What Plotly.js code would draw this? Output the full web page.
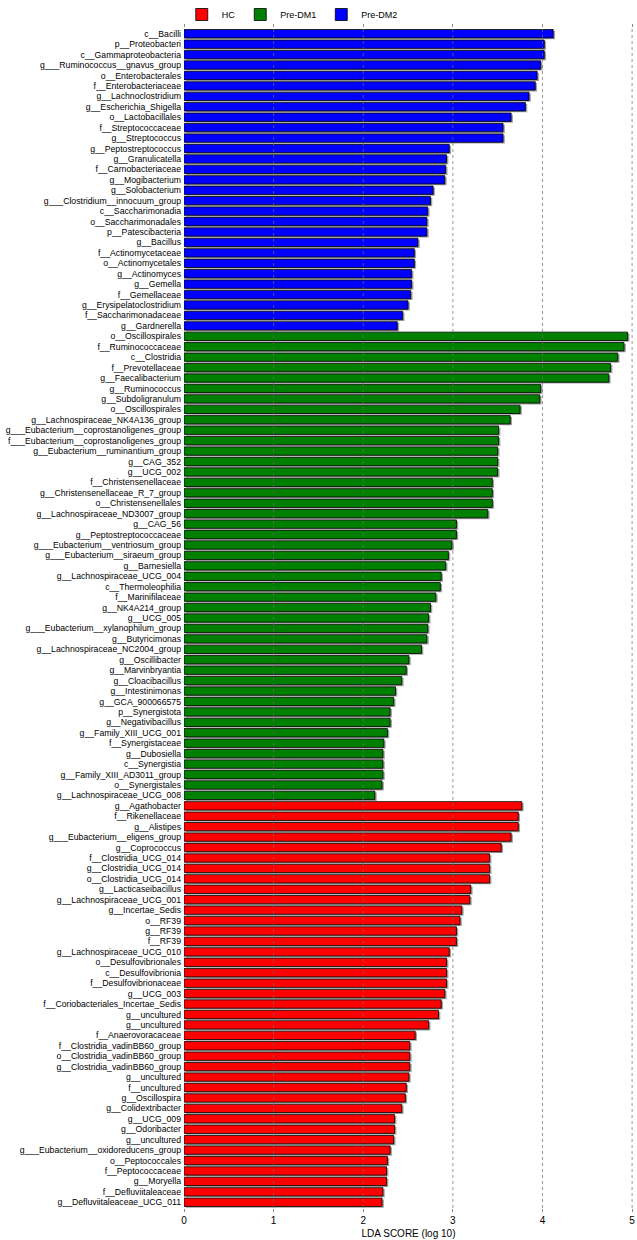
<!DOCTYPE html>
<html>
<head>
<meta charset="utf-8">
<script src="https://cdn.plot.ly/plotly-3.0.1.min.js"></script>
<style>html,body{margin:0;padding:0;background:#fff;}#chart{width:637px;height:1240px;}</style>
</head>
<body>
<div id="chart"></div>
<script>
// ---- Data (LDA scores, log10) ----
const groups = ["HC", "Pre-DM1", "Pre-DM2"];
const groupColors = ["#FF0000", "#008000", "#0000FF"];

const dm2Names = ["c__Bacilli","p__Proteobacteri","c__Gammaproteobacteria","g___Ruminococcus__gnavus_group","o__Enterobacterales","f__Enterobacteriaceae","g__Lachnoclostridium","g__Escherichia_Shigella","o__Lactobacillales","f__Streptococcaceae","g__Streptococcus","g__Peptostreptococcus","g__Granulicatella","f__Carnobacteriaceae","g__Mogibacterium","g__Solobacterium","g___Clostridium__innocuum_group","c__Saccharimonadia","o__Saccharimonadales","p__Patescibacteria","g__Bacillus","f__Actinomycetaceae","o__Actinomycetales","g__Actinomyces","g__Gemella","f__Gemellaceae","g__Erysipelatoclostridium","f__Saccharimonadaceae","g__Gardnerella"];
const dm2Values = [4.12,4.02,4.02,3.98,3.94,3.92,3.85,3.81,3.65,3.56,3.56,2.96,2.93,2.92,2.91,2.78,2.75,2.72,2.71,2.71,2.61,2.57,2.57,2.54,2.54,2.53,2.50,2.44,2.38];

const dm1Names = ["o__Oscillospirales","f__Ruminococcaceae","c__Clostridia","f__Prevotellaceae","g__Faecalibacterium","g__Ruminococcus","g__Subdoligranulum","o__Oscillospirales","g__Lachnospiraceae_NK4A136_group","g___Eubacterium__coprostanoligenes_group","f___Eubacterium__coprostanoligenes_group","g__Eubacterium__ruminantium_group","g__CAG_352","g__UCG_002","f__Christensenellaceae","g__Christensenellaceae_R_7_group","o__Christensenellales","g__Lachnospiraceae_ND3007_group","g__CAG_56","g__Peptostreptococcaceae","g___Eubacterium__ventriosum_group","g___Eubacterium__siraeum_group","g__Barnesiella","g__Lachnospiraceae_UCG_004","c__Thermoleophilia","f__Marinifilaceae","g__NK4A214_group","g__UCG_005","g___Eubacterium__xylanophilum_group","g__Butyricimonas","g__Lachnospiraceae_NC2004_group","g__Oscillibacter","g__Marvinbryantia","g__Cloacibacillus","g__Intestinimonas","g__GCA_900066575","p__Synergistota","g__Negativibacillus","g__Family_XIII_UCG_001","f__Synergistaceae","g__Dubosiella","c__Synergistia","g__Family_XIII_AD3011_group","o__Synergistales","g__Lachnospiraceae_UCG_008"];
const dm1Values = [4.95,4.91,4.84,4.76,4.74,3.98,3.97,3.75,3.64,3.51,3.51,3.50,3.50,3.50,3.44,3.44,3.44,3.39,3.04,3.04,2.99,2.95,2.92,2.87,2.86,2.81,2.75,2.73,2.72,2.71,2.65,2.51,2.48,2.43,2.36,2.34,2.30,2.30,2.27,2.23,2.22,2.22,2.22,2.21,2.13];

const hcNames = ["g__Agathobacter","f__Rikenellaceae","g__Alistipes","g___Eubacterium__eligens_group","g__Coprococcus","f__Clostridia_UCG_014","g__Clostridia_UCG_014","o__Clostridia_UCG_014","g__Lacticaseibacillus","g__Lachnospiraceae_UCG_001","g__Incertae_Sedis","o__RF39","g__RF39","f__RF39","g__Lachnospiraceae_UCG_010","o__Desulfovibrionales","c__Desulfovibrionia","f__Desulfovibrionaceae","g__UCG_003","f__Coriobacteriales_Incertae_Sedis","g__uncultured","g__uncultured","f__Anaerovoracaceae","f__Clostridia_vadinBB60_group","o__Clostridia_vadinBB60_group","g__Clostridia_vadinBB60_group","g__uncultured","f__uncultured","g__Oscillospira","g__Colidextribacter","g__UCG_009","g__Odoribacter","g__uncultured","g___Eubacterium__oxidoreducens_group","o__Peptococcales","f__Peptococcaceae","g__Moryella","f__Defluviitaleaceae","g__Defluviitaleaceae_UCG_011"];
const hcValues = [3.77,3.73,3.73,3.65,3.54,3.41,3.41,3.41,3.20,3.19,3.10,3.08,3.04,3.04,2.96,2.93,2.93,2.93,2.91,2.87,2.84,2.73,2.58,2.52,2.52,2.52,2.51,2.48,2.47,2.43,2.35,2.35,2.34,2.30,2.27,2.26,2.26,2.22,2.21];

const xTickVals = [0,1,2,3,4,5];
const xTickText = ["0","1","2","3","4","5"];
const xTitle = "LDA SCORE (log 10)";

// ---- Build ----
const blocks = [
  {name:"HC", names:hcNames, vals:hcValues, color:groupColors[0]},
  {name:"Pre-DM1", names:dm1Names, vals:dm1Values, color:groupColors[1]},
  {name:"Pre-DM2", names:dm2Names, vals:dm2Values, color:groupColors[2]}
];
// display order top->bottom
const order = ["Pre-DM2","Pre-DM1","HC"];
let start = {}; let pos = 0;
const allNames = [];
order.forEach(g => {
  const b = blocks.find(o => o.name === g);
  start[g] = pos;
  b.names.forEach(n => allNames.push(n));
  pos += b.names.length;
});
const N = allNames.length;
const yIdx = [...Array(N).keys()];

const W = 0.8;
const traces = [];
// drop shadows
blocks.forEach(b => {
  const ys = b.names.map((_, i) => start[b.name] + i);
  traces.push({
    type:"bar", orientation:"h", x:b.vals, y:ys, base:0.02,
    width:W, offset:-W/2 + 0.13,
    marker:{color:"#a0a0a0", line:{width:0}},
    showlegend:false, hoverinfo:"skip"
  });
});
// bars
blocks.forEach(b => {
  const ys = b.names.map((_, i) => start[b.name] + i);
  traces.push({
    type:"bar", orientation:"h", name:b.name, x:b.vals, y:ys,
    width:W, offset:-W/2,
    marker:{color:b.color, line:{color:"#000", width:0.8}},
    showlegend:true
  });
});

const gridShapes = [1,2,3,4,5].map(v => ({
  type:"line", xref:"x", yref:"y domain", x0:v, x1:v, y0:0, y1:1,
  line:{color:"rgba(110,110,110,0.7)", width:1, dash:"dot"}, layer:"above"
}));

const font = "Liberation Sans, Arial, sans-serif";
const H = 1240, MB = 32;
const paperH = H - MB;
const plotTop = 28;      // px from top of page to top of axes
const layout = {
  width:637, height:H,
  margin:{l:184, r:4, t:0, b:MB},
  paper_bgcolor:"#fff", plot_bgcolor:"#fff",
  barmode:"overlay",
  font:{family:font, size:9, color:"#000"},
  showlegend:true,
  legend:{orientation:"h", x:-0.005, xanchor:"left", y:1, yanchor:"top",
          font:{family:font, size:9}, itemwidth:30, traceorder:"normal",
          bgcolor:"rgba(0,0,0,0)", borderwidth:0},
  xaxis:{range:[0,5.01], tickvals:xTickVals, ticktext:xTickText,
         ticks:"outside", ticklen:3, tickcolor:"#888", mirror:"ticks",
         showline:false, showgrid:false, zeroline:false,
         tickfont:{family:font, size:10},
         title:{text:xTitle, font:{family:font, size:10}, standoff:4}},
  yaxis:{domain:[0, 1 - plotTop/paperH], range:[N-0.45, -0.55], tickvals:yIdx, ticktext:allNames,
         ticks:"", showgrid:false, zeroline:false, showline:false,
         tickfont:{family:font, size:8.7}, automargin:false, ticklabelstandoff:2},
  shapes:gridShapes
};

Plotly.newPlot("chart", traces, layout, {displayModeBar:false, staticPlot:true});
</script>
</body>
</html>
